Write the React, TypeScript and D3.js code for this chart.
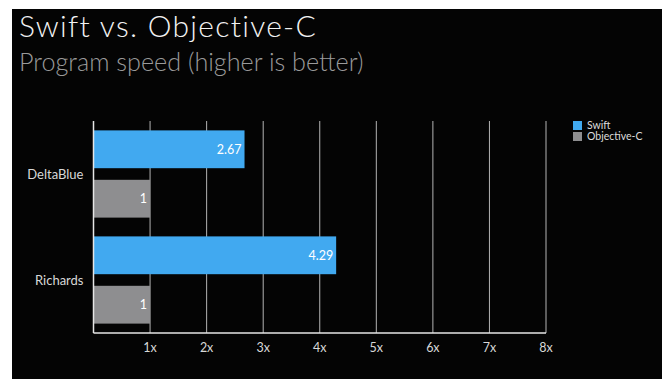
import React, { useEffect, useRef } from 'react'
import * as d3 from 'd3'

// benchmark names and speeds (Objective-C = 1x baseline)
const benchmarks = ['DeltaBlue', 'Richards']
const seriesNames = ['Swift', 'Objective-C']
const swiftValues = [2.67, 4.29]
const objcValues = [1, 1]
const xTicks = [1, 2, 3, 4, 5, 6, 7, 8]

const colors = ['#41a9f0', '#8e8e90']

export default function App() {
  const ref = useRef<SVGSVGElement>(null)

  useEffect(() => {
    const width = 672
    const height = 389
    const margin = { left: 93.5, right: 126, top: 121, bottom: 56 }

    const svg = d3.select(ref.current)
    svg.selectAll('*').remove()

    svg.append('rect').attr('width', width).attr('height', height).attr('fill', '#fff')
    svg.append('rect')
      .attr('x', 12).attr('y', 9)
      .attr('width', 650).attr('height', 370)
      .attr('fill', '#040404')

    const font = 'Lato, "Open Sans", sans-serif'

    // titles
    svg.append('text')
      .attr('x', 19).attr('y', 37)
      .attr('fill', '#f2f2f2')
      .style('font-family', font)
      .style('font-weight', 300)
      .style('font-size', '30px')
      .style('letter-spacing', '1.3px')
      .text('Swift vs. Objective-C')
    svg.append('text')
      .attr('x', 19).attr('y', 71)
      .attr('fill', '#9a9a9a')
      .style('font-family', font)
      .style('font-weight', 300)
      .style('font-size', '25.2px')
      .text('Program speed (higher is better)')

    const x = d3.scaleLinear()
      .domain([0, 8])
      .range([margin.left, width - margin.right])

    const y0 = d3.scaleBand()
      .domain(benchmarks)
      .range([margin.top, height - margin.bottom])
      .padding(0)

    const y1 = d3.scaleBand()
      .domain(seriesNames)
      .range([0, y0.bandwidth()])
      .paddingInner(0.235)
      .paddingOuter(0.19)

    const g = svg.append('g')

    // vertical grid lines
    g.selectAll('.grid')
      .data(xTicks)
      .enter()
      .append('line')
      .attr('x1', d => x(d)).attr('x2', d => x(d))
      .attr('y1', margin.top).attr('y2', height - margin.bottom)
      .attr('stroke', '#b4b4b4')
      .attr('stroke-width', 1)

    const rows = benchmarks.map((b, i) => ({ name: b, values: [swiftValues[i], objcValues[i]] }))

    const groups = g.selectAll('.grp')
      .data(rows)
      .enter()
      .append('g')
      .attr('transform', d => 'translate(0,' + y0(d.name) + ')')

    groups.selectAll('rect')
      .data(d => d.values.map((v, j) => ({ key: seriesNames[j], value: v, idx: j })))
      .enter()
      .append('rect')
      .attr('x', x(0))
      .attr('y', d => y1(d.key)!)
      .attr('width', d => x(d.value) - x(0))
      .attr('height', y1.bandwidth())
      .attr('fill', d => colors[d.idx])

    groups.selectAll('.val')
      .data(d => d.values.map((v, j) => ({ key: seriesNames[j], value: v })))
      .enter()
      .append('text')
      .attr('x', d => x(d.value) - 3)
      .attr('y', d => y1(d.key)! + y1.bandwidth() / 2)
      .attr('dy', '0.35em')
      .attr('text-anchor', 'end')
      .attr('fill', '#fff')
      .style('font-family', font)
      .style('font-size', '12.5px')
      .text(d => String(d.value))

    // category labels
    g.selectAll('.cat')
      .data(benchmarks)
      .enter()
      .append('text')
      .attr('x', margin.left - 10)
      .attr('y', d => y0(d)! + y0.bandwidth() / 2)
      .attr('dy', '0.35em')
      .attr('text-anchor', 'end')
      .attr('fill', '#d8d8d8')
      .style('font-family', font)
      .style('font-size', '13px')
      .text(d => d)

    // tick labels
    g.selectAll('.tick')
      .data(xTicks)
      .enter()
      .append('text')
      .attr('x', d => x(d))
      .attr('y', height - margin.bottom + 19)
      .attr('text-anchor', 'middle')
      .attr('fill', '#d8d8d8')
      .style('font-family', font)
      .style('font-size', '12.5px')
      .text(d => d + 'x')

    // axis lines
    g.append('line')
      .attr('x1', x(0)).attr('x2', x(0))
      .attr('y1', margin.top).attr('y2', height - margin.bottom)
      .attr('stroke', '#e6e6e6').attr('stroke-width', 1.5)
    g.append('line')
      .attr('x1', x(0)).attr('x2', x(8))
      .attr('y1', height - margin.bottom).attr('y2', height - margin.bottom)
      .attr('stroke', '#e6e6e6').attr('stroke-width', 1.5)

    // legend
    const legend = svg.append('g').attr('transform', 'translate(573,121)')
    seriesNames.forEach((s, i) => {
      legend.append('rect')
        .attr('x', 0).attr('y', i * 11)
        .attr('width', 9).attr('height', 9)
        .attr('fill', colors[i])
      legend.append('text')
        .attr('x', 14).attr('y', i * 11 + 8)
        .attr('fill', '#dcdcdc')
        .style('font-family', font)
        .style('font-size', '10.5px')
        .text(s)
    })
  }, [])

  return (
    <svg ref={ref} width={672} height={389} style={{ position: 'absolute', left: 0, top: 0 }} />
  )
}
